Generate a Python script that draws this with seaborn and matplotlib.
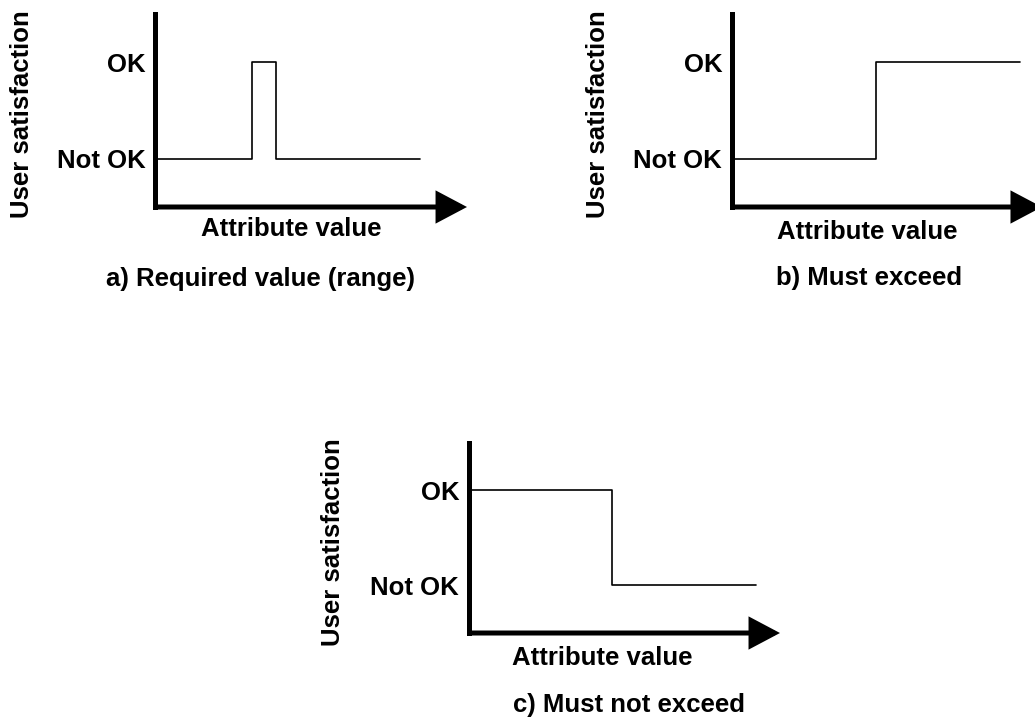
import seaborn as sns
import matplotlib.pyplot as plt

# 속성값 / 사용자 만족도 (Not OK = 1, OK = 3)
attr_a = [0, 3.66, 4.57, 10]
sat_a = [1, 3, 1, 1]
attr_b = [0, 5.0, 10]
sat_b = [1, 3, 3]
attr_c = [0, 4.98, 10]
sat_c = [3, 1, 1]

levels = [1, 3]
level_labels = ["Not OK", "OK"]
ylabel = "User satisfaction"
xlabel = "Attribute value"
captions = ["a) Required value (range)", "b) Must exceed", "c) Must not exceed"]


def set_config():
    sns.set_theme(style="white", rc={
        "text.color": "black", "axes.labelcolor": "black",
        "xtick.color": "black", "ytick.color": "black",
    })
    plt.rcParams["font.family"] = ["Liberation Sans", "DejaVu Sans"]
    plt.rcParams["font.weight"] = "bold"
    plt.rcParams["font.size"] = 18.5


def draw_panel(fig, rect, x, y, xmax, caption, lab_pos, cap_pos):
    ax = fig.add_axes(rect)
    sns.lineplot(x=x, y=y, drawstyle="steps-post", color="black", lw=1.2, ax=ax)
    ax.set_xlim(0, xmax)
    ax.set_ylim(0, 4)
    ax.set_xticks([])
    ax.set_yticks(levels)
    ax.set_yticklabels(level_labels, fontsize=18.5, fontweight="bold")
    ax.tick_params(axis="y", length=0, pad=7)

    for s in ["top", "right", "bottom"]:
        ax.spines[s].set_visible(False)
    ax.spines["left"].set_linewidth(3.6)
    ax.spines["left"].set_color("black")

    # x축 화살표
    ax.annotate("", xy=(1, 0), xytext=(0, 0), xycoords="axes fraction",
                arrowprops=dict(arrowstyle="-|>,head_length=0.85,head_width=0.45",
                                lw=3.6, color="black", shrinkA=0, shrinkB=0,
                                mutation_scale=20, joinstyle="miter",
                                capstyle="butt"),
                annotation_clip=False)

    ax.set_ylabel(ylabel, fontsize=18.5, fontweight="bold", va="center")
    ax.yaxis.set_label_coords(*lab_pos[0])
    ax.set_xlabel(xlabel, fontsize=18.5, fontweight="bold", va="center")
    ax.xaxis.set_label_coords(*lab_pos[1])
    ax.text(cap_pos[0], cap_pos[1], caption, transform=ax.transAxes,
            ha="center", va="center", fontsize=18.5, fontweight="bold")
    return ax


def main():
    set_config()
    fig = plt.figure(figsize=(10.35, 7.19), dpi=100)
    draw_panel(fig, [0.1498, 0.7121, 0.3014, 0.2684], attr_a, sat_a, 11.77,
               captions[0], [(-0.426, 0.482), (0.436, -0.115)], (0.337, -0.373))
    draw_panel(fig, [0.7072, 0.7121, 0.2995, 0.2684], attr_b, sat_b, 10.76,
               captions[1], [(-0.432, 0.482), (0.435, -0.13)], (0.442, -0.368))
    draw_panel(fig, [0.4531, 0.1196, 0.3005, 0.2643], attr_c, sat_c, 10.84,
               captions[2], [(-0.437, 0.479), (0.428, -0.13)], (0.514, -0.379))
    fig.savefig("out.png", dpi=100)


if __name__ == "__main__":
    main()
